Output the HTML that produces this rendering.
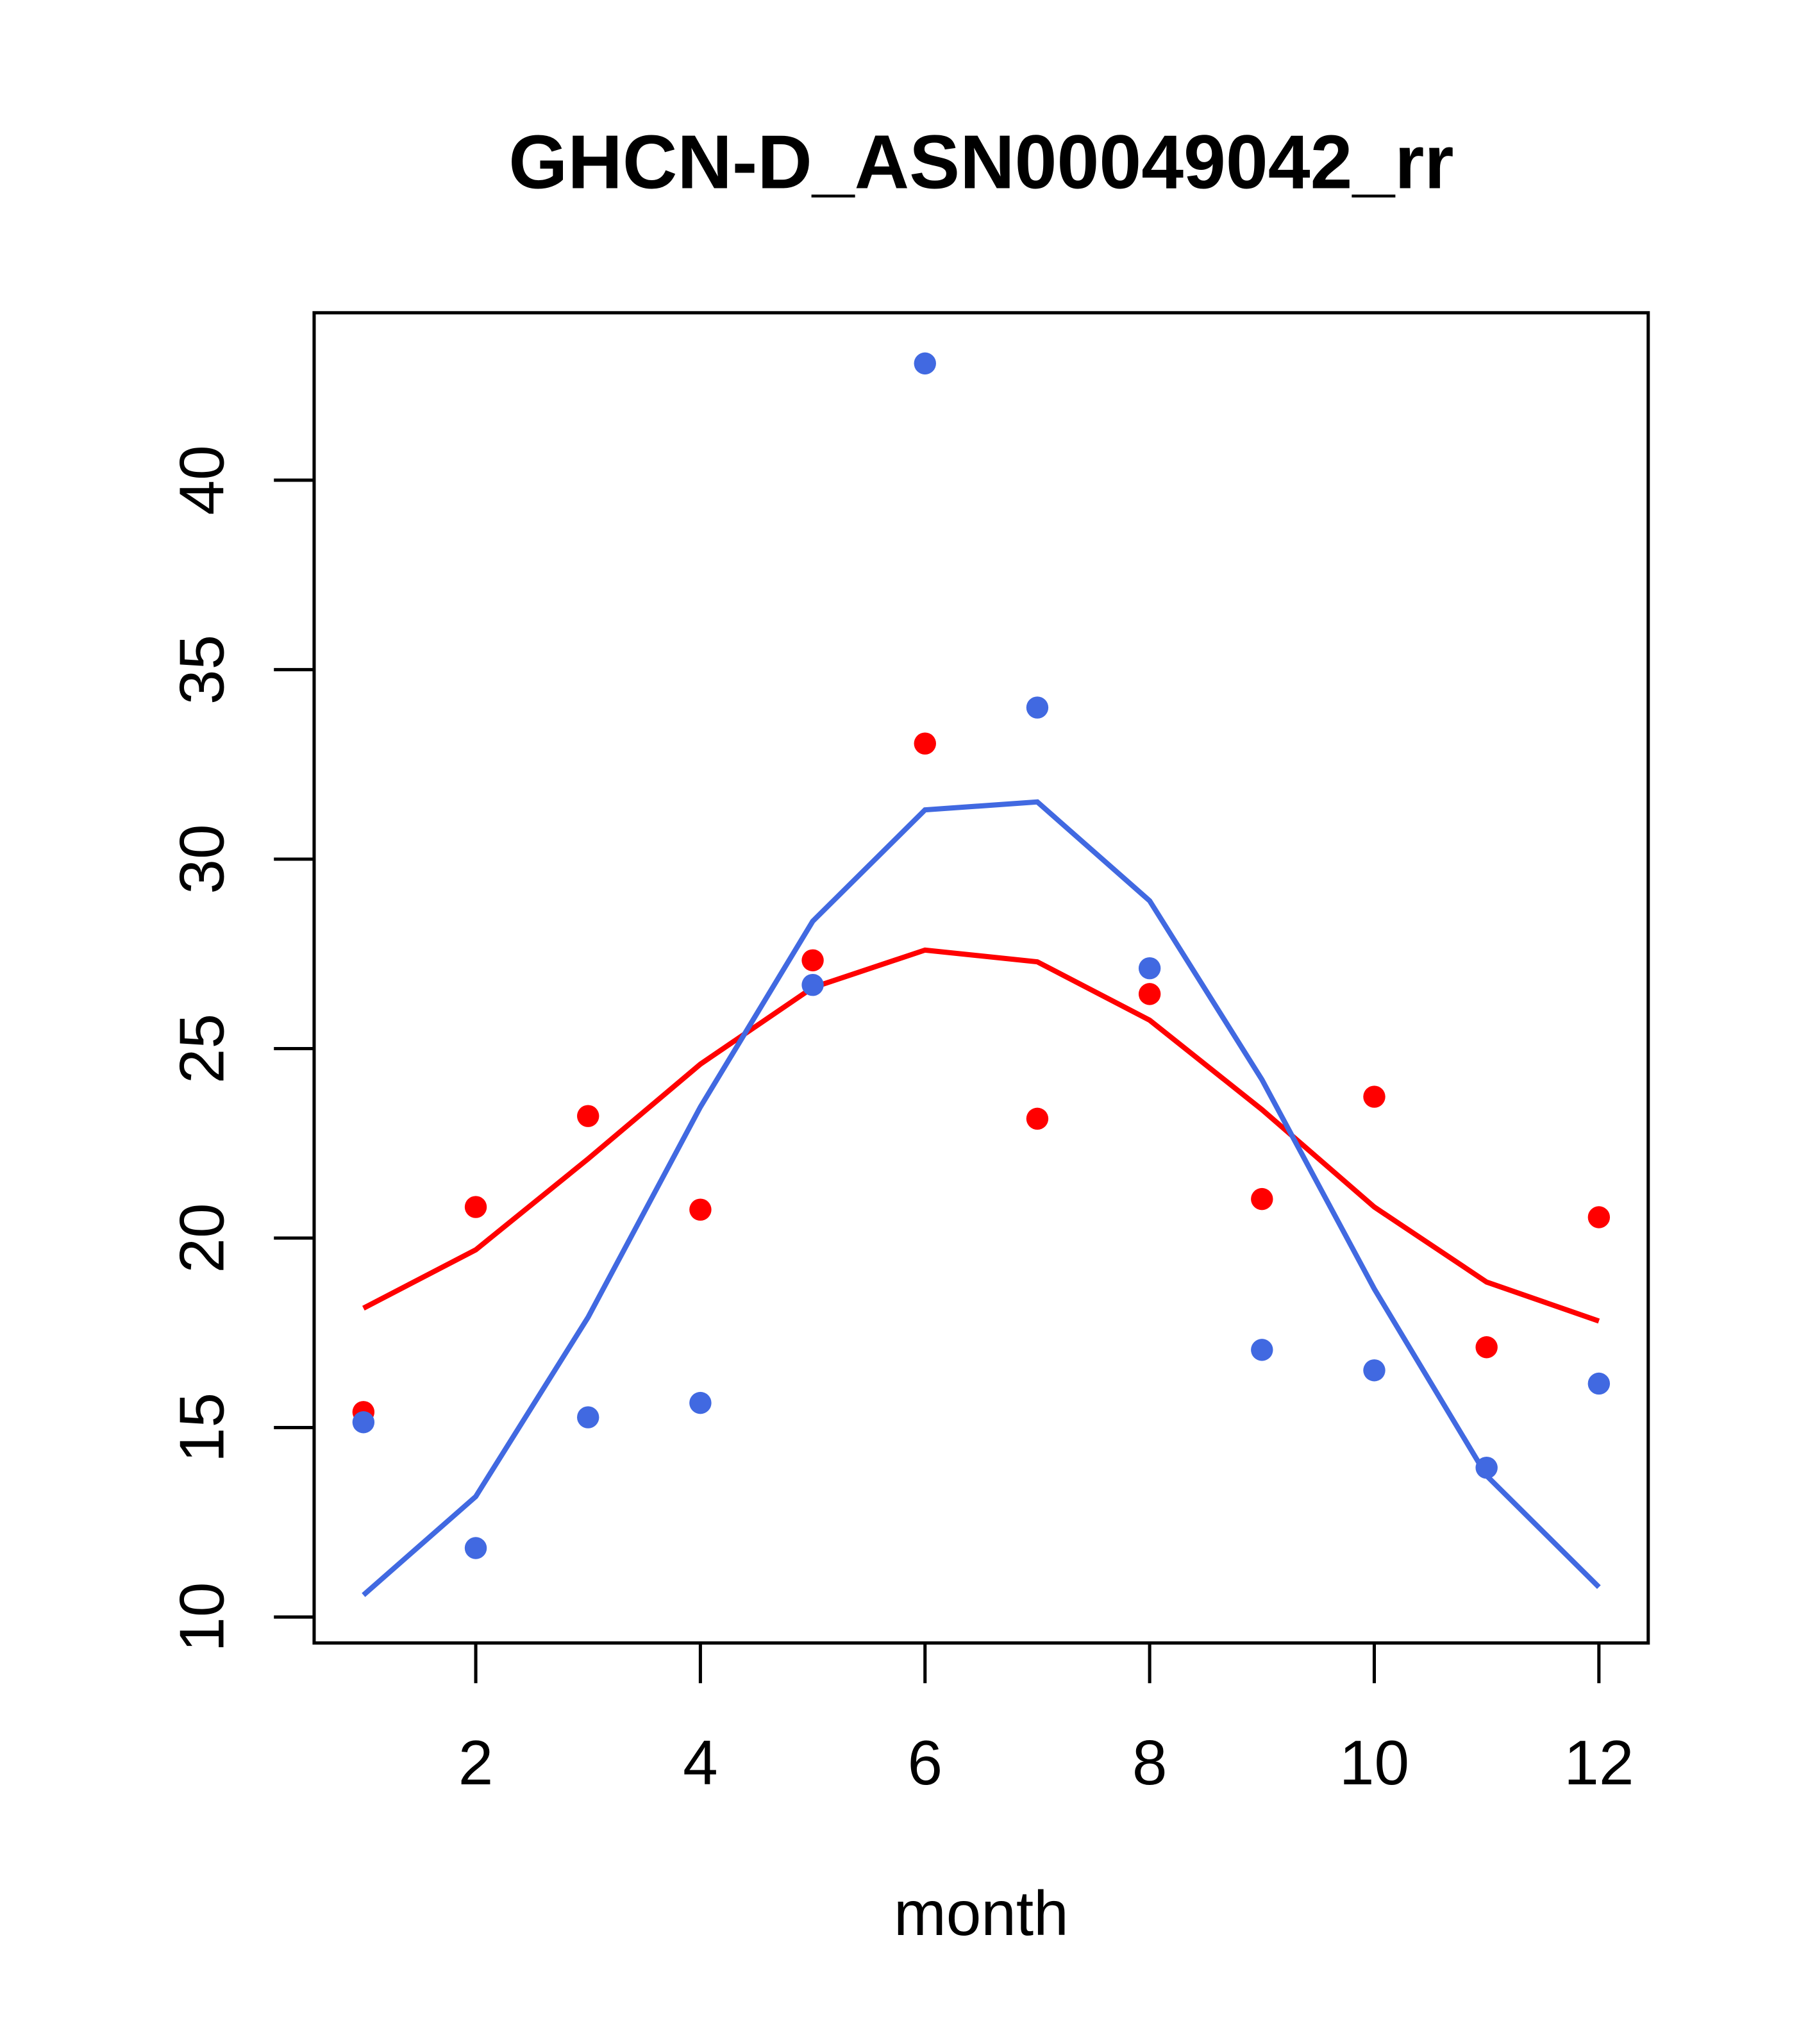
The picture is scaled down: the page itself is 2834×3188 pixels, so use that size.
<!DOCTYPE html>
<html><head><meta charset="utf-8"><style>html,body{margin:0;padding:0;background:#fff}svg{display:block}</style></head>
<body>
<svg id="chart" width="2834" height="3188" viewBox="0 0 1400 1575" xmlns="http://www.w3.org/2000/svg" font-family="Liberation Sans, sans-serif">
<rect width="1400" height="1575" fill="#fff"/>
<text x="756" y="145" text-anchor="middle" font-size="58.5" font-weight="bold">GHCN-D_ASN00049042_rr</text>
<rect x="242" y="241" width="1028" height="1025" fill="none" stroke="#000" stroke-width="2.5"/>
<text x="756" y="1491" text-anchor="middle" font-size="48.5">month</text>
<g id="axes"></g>
<g id="series"></g>
</svg>
<script>
const months=[1,2,3,4,5,6,7,8,9,10,11,12];
const redPoints=[15.41,20.82,23.22,20.75,27.33,33.05,23.15,26.44,21.03,23.73,17.12,20.55];
const bluePoints=[15.14,11.82,15.27,15.65,26.68,43.08,34.0,27.12,17.05,16.51,13.94,16.16];
const redLine=[18.15,19.69,22.09,24.59,26.61,27.6,27.29,25.75,23.39,20.82,18.84,17.81];
const blueLine=[10.58,13.18,17.91,23.46,28.36,31.3,31.51,28.9,24.18,18.66,13.73,10.79];
const xTicks=[2,4,6,8,10,12];
const yTicks=[10,15,20,25,30,35,40];
const NS='http://www.w3.org/2000/svg';
const xs=m=>280+(m-1)*(1232-280)/11;
const ys=v=>1246-(v-10)*29.2;
function mk(tag,attrs,parent){const e=document.createElementNS(NS,tag);for(const k in attrs)e.setAttribute(k,attrs[k]);parent.appendChild(e);return e;}
const ax=document.getElementById('axes'),se=document.getElementById('series');
xTicks.forEach(t=>{
 const l=mk('line',{x1:xs(t),x2:xs(t),y1:1266,y2:1297,stroke:'#000','stroke-width':2.5},ax);
 
 
 const tx=mk('text',{x:xs(t),y:1375,'text-anchor':'middle','font-size':48.5},ax);tx.textContent=t;
 
 
});
yTicks.forEach(t=>{
 const l=mk('line',{x1:211,x2:242,y1:ys(t),y2:ys(t),stroke:'#000','stroke-width':2.5},ax);
 
 
 const tx=mk('text',{x:0,y:0,'text-anchor':'middle','font-size':48.5,transform:`translate(172,${ys(t)}) rotate(-90)`},ax);tx.textContent=t;
 
 
});
function line(vals,col,name){const p=mk('polyline',{points:vals.map((v,i)=>xs(months[i])+','+ys(v)).join(' '),fill:'none',stroke:col,'stroke-width':4},se);
 
 }
function pts(vals,col,name){vals.forEach((v,i)=>{const c=mk('circle',{cx:xs(months[i]),cy:ys(v),r:8.5,fill:col},se);
 
 });}
line(redLine,'#ff0000','red-line');
line(blueLine,'#4169e1','blue-line');
pts(redPoints,'#ff0000','red-point');
pts(bluePoints,'#4169e1','blue-point');
</script>
</body></html>
